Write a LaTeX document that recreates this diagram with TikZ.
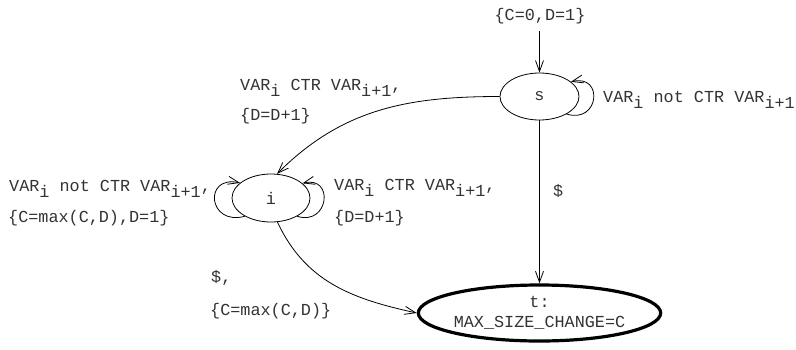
\documentclass[tikz,border=0pt]{standalone}
\usepackage{fontspec}
\newfontfamily\crr{Liberation Mono}
\usetikzlibrary{shapes.geometric,arrows.meta}
\newcommand\sbs[1]{\raisebox{-6.5pt}{#1}}
\begin{document}
\begin{tikzpicture}[x=1pt,y=-1pt,
  txt/.style={font=\crr\fontsize{16.8}{20}\selectfont, text=black!80, inner sep=0pt},
  lbl/.style={txt, anchor=base west},
  st/.style={ellipse, draw, line width=0.8pt, inner sep=0pt, txt},
  arr/.style={line width=0.8pt, -{Straight Barb[length=11pt,width=8pt,line width=0.8pt]}},
]
\useasboundingbox (0,0) rectangle (796,349);
\node[st, minimum width=79pt, minimum height=47pt] (s) at (539.5,96.5) {s};
\node[st, minimum width=78pt, minimum height=48pt] (i) at (271,198) {i};
\node[st, line width=3.2pt, minimum width=239pt, minimum height=56pt, align=center] (t) at (539.5,313) {t:\\MAX\_SIZE\_CHANGE=C};
\coordinate (init) at (539.5,31);
\node[txt, anchor=base] (lini) at (540,20) {\{C=0,D=1\}};
\draw[arr] (init) -- (s);
\draw[arr] (s.-33) .. controls +(33,10) and +(33,-8) .. (s.25);
\node[lbl] (lsl) at (603,102) {VAR\sbs{i} not CTR VAR\sbs{i+1}};
\draw[arr] (s.west) .. controls +(-92,0) and +(65,-65) .. (i.76);
\node[lbl] (lsia) at (240,90) {VAR\sbs{i} CTR VAR\sbs{i+1},};
\node[lbl] (lsib) at (240,120) {\{D=D+1\}};
\draw[arr] (s) -- (t);
\node[lbl] (lst) at (553,196) {\$};
\draw[arr] (i.-145) .. controls +(-37,10) and +(-37,-8) .. (i.154);
\node[lbl] (lila) at (9,191) {VAR\sbs{i} not CTR VAR\sbs{i+1},};
\node[lbl] (lilb) at (8,222) {\{C=max(C,D),D=1\}};
\draw[arr] (i.-35) .. controls +(32,10) and +(32,-8) .. (i.25);
\node[lbl] (lira) at (334,190) {VAR\sbs{i} CTR VAR\sbs{i+1},};
\node[lbl] (lirb) at (334,222) {\{D=D+1\}};
\draw[arr] (i.-75) .. controls +(28,60) and +(-64,-14) .. (t.west);
\node[lbl] (lita) at (211,282) {\$,};
\node[lbl] (litb) at (210,315) {\{C=max(C,D)\}};
\end{tikzpicture}
\end{document}
